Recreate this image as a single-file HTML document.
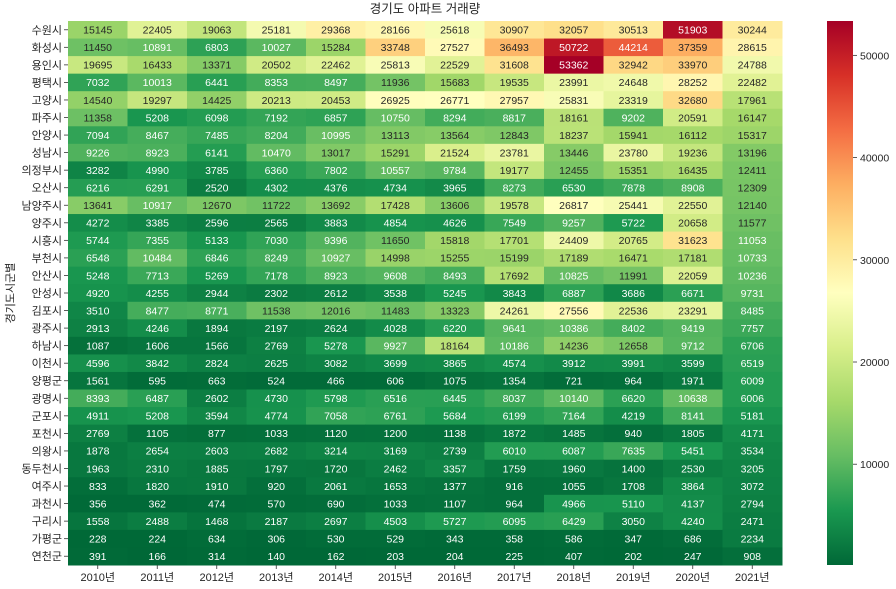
<!DOCTYPE html>
<html><head><meta charset="utf-8">
<style>
html,body{margin:0;padding:0;background:#fff;}
svg{display:block;font-family:"Liberation Sans","Noto Sans CJK KR",sans-serif;}
</style></head>
<body>
<svg id="chart" width="896" height="589"></svg>
<script>
const years = ["2010년","2011년","2012년","2013년","2014년","2015년","2016년","2017년","2018년","2019년","2020년","2021년"];
const cities = ["수원시","화성시","용인시","평택시","고양시","파주시","안양시","성남시","의정부시","오산시","남양주시","양주시","시흥시","부천시","안산시","안성시","김포시","광주시","하남시","이천시","양평군","광명시","군포시","포천시","의왕시","동두천시","여주시","과천시","구리시","가평군","연천군"];
const values = [
[15145,22405,19063,25181,29368,28166,25618,30907,32057,30513,51903,30244],
[11450,10891,6803,10027,15284,33748,27527,36493,50722,44214,37359,28615],
[19695,16433,13371,20502,22462,25813,22529,31608,53362,32942,33970,24788],
[7032,10013,6441,8353,8497,11936,15683,19535,23991,24648,28252,22482],
[14540,19297,14425,20213,20453,26925,26771,27957,25831,23319,32680,17961],
[11358,5208,6098,7192,6857,10750,8294,8817,18161,9202,20591,16147],
[7094,8467,7485,8204,10995,13113,13564,12843,18237,15941,16112,15317],
[9226,8923,6141,10470,13017,15291,21524,23781,13446,23780,19236,13196],
[3282,4990,3785,6360,7802,10557,9784,19177,12455,15351,16435,12411],
[6216,6291,2520,4302,4376,4734,3965,8273,6530,7878,8908,12309],
[13641,10917,12670,11722,13692,17428,13606,19578,26817,25441,22550,12140],
[4272,3385,2596,2565,3883,4854,4626,7549,9257,5722,20658,11577],
[5744,7355,5133,7030,9396,11650,15818,17701,24409,20765,31623,11053],
[6548,10484,6846,8249,10927,14998,15255,15199,17189,16471,17181,10733],
[5248,7713,5269,7178,8923,9608,8493,17692,10825,11991,22059,10236],
[4920,4255,2944,2302,2612,3538,5245,3843,6887,3686,6671,9731],
[3510,8477,8771,11538,12016,11483,13323,24261,27556,22536,23291,8485],
[2913,4246,1894,2197,2624,4028,6220,9641,10386,8402,9419,7757],
[1087,1606,1566,2769,5278,9927,18164,10186,14236,12658,9712,6706],
[4596,3842,2824,2625,3082,3699,3865,4574,3912,3991,3599,6519],
[1561,595,663,524,466,606,1075,1354,721,964,1971,6009],
[8393,6487,2602,4730,5798,6516,6445,8037,10140,6620,10638,6006],
[4911,5208,3594,4774,7058,6761,5684,6199,7164,4219,8141,5181],
[2769,1105,877,1033,1120,1200,1138,1872,1485,940,1805,4171],
[1878,2654,2603,2682,3214,3169,2739,6010,6087,7635,5451,3534],
[1963,2310,1885,1797,1720,2462,3357,1759,1960,1400,2530,3205],
[833,1820,1910,920,2061,1653,1377,916,1055,1708,3864,3072],
[356,362,474,570,690,1033,1107,964,4966,5110,4137,2794],
[1558,2488,1468,2187,2697,4503,5727,6095,6429,3050,4240,2471],
[228,224,634,306,530,529,343,358,586,347,686,2234],
[391,166,314,140,162,203,204,225,407,202,247,908]
];
const cbTicks = [10000,20000,30000,40000,50000];

const NS="http://www.w3.org/2000/svg";
const svg=document.getElementById('chart');
const L=68,R=782,T=21,B=565;
const cw=(R-L)/years.length, rh=(B-T)/cities.length;
let vmin=Infinity,vmax=-Infinity;
values.forEach(r=>r.forEach(v=>{vmin=Math.min(vmin,v);vmax=Math.max(vmax,v);}));
const stops=["#006837","#1a9850","#66bd63","#a6d96a","#d9ef8b","#ffffbf","#fee08b","#fdae61","#f46d43","#d73027","#a50026"];
function hex(h){return [1,3,5].map(i=>parseInt(h.substr(i,2),16));}
const sc=stops.map(hex);
function cmap(v){
  let t=(v-vmin)/(vmax-vmin); t=Math.max(0,Math.min(1,t));
  const p=t*(sc.length-1), i=Math.min(Math.floor(p),sc.length-2), f=p-i;
  return sc[i].map((c,k)=>Math.round(c+(sc[i+1][k]-c)*f));
}
function lum(c){const l=c.map(x=>{x/=255;return x<=0.03928?x/12.92:Math.pow((x+0.055)/1.055,2.4);});return 0.2126*l[0]+0.7152*l[1]+0.0722*l[2];}
function el(tag,attrs,txt){const e=document.createElementNS(NS,tag);for(const k in attrs)e.setAttribute(k,attrs[k]);if(txt!==undefined)e.textContent=txt;svg.appendChild(e);return e;}
const xc=i=>L+cw*(i+0.5), yc=j=>T+rh*(j+0.5);

values.forEach((row,j)=>row.forEach((v,i)=>{
  const c=cmap(v);
  const r=el('rect',{x:L+cw*i,y:T+rh*j,width:cw+0.5,height:rh+0.5,fill:`rgb(${c})`});
  
  
  const t=el('text',{x:xc(i),y:yc(j)+3.8,'text-anchor':'middle','font-size':'10.5',fill:lum(c)>0.408?'#262626':'#ffffff'},String(v));
  
  
}));
cities.forEach((c,j)=>{
  el('line',{x1:L-4,x2:L,y1:yc(j),y2:yc(j),stroke:'#333','stroke-width':0.8});
  const t=el('text',{x:L-6,y:yc(j)+4,'text-anchor':'end','font-size':'11',fill:'#262626'},c);
  
  
});
years.forEach((y,i)=>{
  el('line',{x1:xc(i),x2:xc(i),y1:B,y2:B+4,stroke:'#333','stroke-width':0.8});
  const t=el('text',{x:xc(i),y:B+16,'text-anchor':'middle','font-size':'11',fill:'#262626'},y);
  
  
});
const title=el('text',{x:425,y:13,'text-anchor':'middle','font-size':'12.5',fill:'#262626'},'경기도 아파트 거래량');


const yl=el('text',{x:0,y:0,'text-anchor':'middle','font-size':'11',fill:'#262626',transform:'translate(14,293) rotate(-90)'},'경기도시군별');



// colorbar
const CL=827,CR=853;
const defs=el('defs',{});
const g=document.createElementNS(NS,'linearGradient');
g.setAttribute('id','cbg');g.setAttribute('x1','0');g.setAttribute('y1','1');g.setAttribute('x2','0');g.setAttribute('y2','0');
stops.forEach((s,k)=>{const st=document.createElementNS(NS,'stop');st.setAttribute('offset',k/(stops.length-1));st.setAttribute('stop-color',s);g.appendChild(st);});
defs.appendChild(g);
const cb=el('rect',{x:CL,y:T,width:CR-CL,height:B-T,fill:'url(#cbg)'});


const cy=v=>B-(v-vmin)/(vmax-vmin)*(B-T);
cbTicks.forEach(v=>{
  el('line',{x1:CR,x2:CR+4,y1:cy(v),y2:cy(v),stroke:'#333','stroke-width':0.8});
  const t=el('text',{x:CR+7,y:cy(v)+4,'font-size':'10.5',fill:'#262626'},String(v));
  
  
});
</script>
</body></html>
